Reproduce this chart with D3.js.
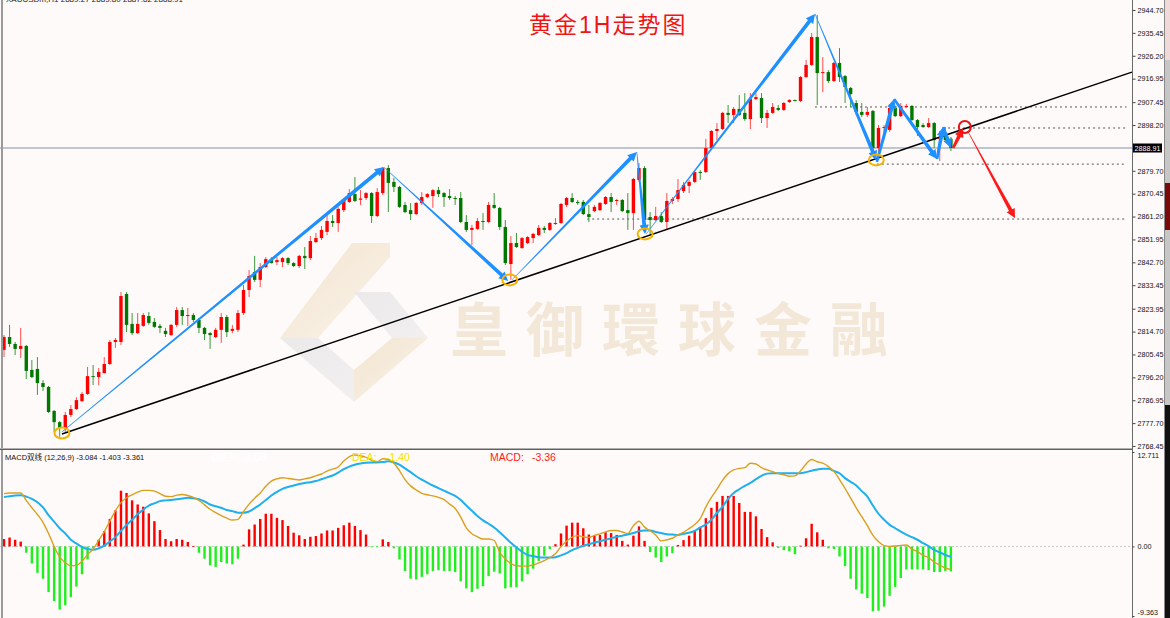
<!DOCTYPE html>
<html lang="zh-CN">
<head>
<meta charset="UTF-8">
<title>黄金1H走势图</title>
<script src="https://d3js.org/d3.v7.min.js"></script>
<style>
  html, body { margin: 0; padding: 0; background: #fffafa; overflow: hidden; }
  svg { display: block; }
  text { font-family: "Liberation Sans", "Noto Sans CJK SC", sans-serif; }
</style>
</head>
<body>
<svg id="chart" width="1170" height="618"></svg>
<script>
// XAUUSD H1 bars, oldest first
var opens = [
  2807.3, 2812.5, 2809.7, 2807.7, 2808.9, 2799.2, 2799.6, 2793.9, 2792.3, 2782.6,
  2778.1, 2775.7, 2781.0, 2783.4, 2786.6, 2789.5, 2796.7, 2796.3, 2797.9, 2801.6,
  2810.5, 2810.5, 2829.9, 2817.8, 2814.1, 2817.0, 2821.0, 2818.6, 2817.0, 2815.0,
  2813.3, 2817.4, 2823.4, 2821.0, 2821.4, 2819.4, 2816.2, 2814.1, 2812.5, 2815.4,
  2820.6, 2815.0, 2815.4, 2822.2, 2831.5, 2838.8, 2835.6, 2840.8, 2843.6, 2842.8,
  2842.8, 2844.4, 2842.4, 2841.2, 2845.3, 2844.4, 2850.9, 2852.5, 2855.0, 2859.4,
  2858.6, 2863.8, 2867.1, 2870.3, 2868.0, 2868.7, 2870.7, 2861.4, 2870.7, 2880.8,
  2875.2, 2873.2, 2865.9, 2863.8, 2862.2, 2866.7, 2869.1, 2869.5, 2871.9, 2870.7,
  2869.5, 2868.7, 2868.7, 2859.0, 2855.8, 2856.2, 2859.4, 2859.0, 2865.9, 2864.7,
  2857.0, 2842.0, 2850.5, 2848.5, 2850.5, 2852.5, 2853.7, 2856.6, 2855.8, 2858.2,
  2858.6, 2865.9, 2868.7, 2867.1, 2867.1, 2862.2, 2863.4, 2863.8, 2866.3, 2869.1,
  2867.5, 2867.9, 2863.8, 2862.6, 2876.0, 2880.8, 2861.0, 2859.8, 2861.4, 2859.0,
  2867.5, 2868.3, 2871.5, 2873.6, 2875.2, 2879.2, 2879.2, 2888.9, 2895.8, 2896.6,
  2903.1, 2902.3, 2904.7, 2903.1, 2900.6, 2908.7, 2909.1, 2901.0, 2903.1, 2905.1,
  2904.3, 2907.5, 2908.3, 2907.9, 2917.6, 2922.5, 2933.8, 2919.2, 2919.6, 2916.0,
  2923.3, 2918.0, 2913.2, 2907.1, 2903.5, 2902.3, 2903.9, 2888.9, 2897.0, 2896.2,
  2905.1, 2901.8, 2905.5, 2905.9, 2900.2, 2898.2, 2897.4, 2899.0, 2892.6, 2894.2,
  2892.6
];
var highs = [
  2813.3, 2817.4, 2810.5, 2816.2, 2809.3, 2803.2, 2804.4, 2795.1, 2792.7, 2783.0,
  2778.5, 2782.2, 2785.0, 2788.2, 2790.3, 2800.4, 2801.2, 2800.0, 2804.4, 2811.3,
  2812.1, 2830.7, 2830.7, 2822.2, 2822.2, 2822.2, 2822.6, 2820.2, 2817.8, 2816.2,
  2817.8, 2824.6, 2824.6, 2824.2, 2822.2, 2820.2, 2816.6, 2814.5, 2816.2, 2822.2,
  2821.4, 2817.4, 2823.4, 2833.5, 2839.6, 2845.3, 2842.4, 2844.8, 2844.8, 2844.8,
  2844.8, 2844.8, 2842.8, 2845.7, 2848.9, 2853.3, 2854.6, 2857.4, 2861.8, 2861.8,
  2865.1, 2868.7, 2872.3, 2877.2, 2871.9, 2871.1, 2871.1, 2872.7, 2881.2, 2882.0,
  2876.8, 2873.6, 2867.1, 2866.7, 2867.1, 2871.1, 2870.7, 2872.3, 2873.2, 2871.1,
  2872.3, 2869.5, 2871.1, 2861.8, 2857.8, 2860.6, 2862.6, 2867.1, 2870.7, 2865.1,
  2859.8, 2853.3, 2854.6, 2852.9, 2853.3, 2854.6, 2857.8, 2857.4, 2859.0, 2860.6,
  2866.7, 2869.1, 2870.7, 2867.9, 2867.9, 2865.9, 2865.9, 2867.1, 2869.5, 2870.7,
  2868.3, 2868.3, 2870.7, 2876.8, 2882.8, 2881.6, 2863.0, 2865.1, 2863.0, 2870.7,
  2869.1, 2876.4, 2875.2, 2876.0, 2879.6, 2880.0, 2892.6, 2896.2, 2899.0, 2903.5,
  2906.3, 2905.5, 2910.3, 2911.1, 2911.1, 2911.1, 2911.1, 2904.3, 2907.1, 2906.3,
  2907.5, 2908.7, 2908.5, 2918.0, 2924.5, 2935.4, 2942.7, 2925.7, 2920.4, 2923.7,
  2929.3, 2918.4, 2913.6, 2908.3, 2907.1, 2905.5, 2904.3, 2898.2, 2898.2, 2906.7,
  2905.9, 2907.1, 2906.7, 2906.3, 2900.6, 2899.0, 2901.0, 2899.4, 2895.8, 2897.4,
  2893.4
];
var lows = [
  2804.4, 2808.5, 2805.2, 2804.0, 2795.5, 2795.9, 2789.1, 2790.7, 2781.8, 2774.1,
  2772.2, 2774.1, 2780.2, 2783.0, 2786.2, 2789.1, 2793.1, 2793.1, 2797.9, 2801.2,
  2808.1, 2809.3, 2814.5, 2813.3, 2813.7, 2816.6, 2817.4, 2816.2, 2814.1, 2812.5,
  2812.9, 2816.6, 2817.4, 2817.0, 2818.6, 2814.1, 2811.3, 2807.7, 2812.1, 2810.1,
  2812.5, 2814.1, 2814.5, 2821.4, 2828.7, 2834.7, 2832.7, 2840.4, 2842.2, 2841.6,
  2840.8, 2841.6, 2840.8, 2840.4, 2840.0, 2843.6, 2850.5, 2851.7, 2853.7, 2857.0,
  2855.0, 2863.0, 2866.7, 2867.1, 2865.9, 2867.9, 2858.6, 2861.0, 2869.9, 2863.0,
  2871.1, 2864.7, 2862.6, 2859.8, 2861.8, 2865.9, 2868.7, 2864.7, 2869.1, 2865.1,
  2867.9, 2865.9, 2858.6, 2855.0, 2849.7, 2855.8, 2855.8, 2858.6, 2864.3, 2855.8,
  2841.6, 2835.6, 2848.5, 2848.1, 2850.1, 2850.5, 2853.3, 2854.6, 2855.4, 2857.8,
  2858.2, 2865.1, 2866.7, 2865.9, 2861.8, 2859.0, 2863.0, 2863.4, 2865.9, 2863.0,
  2865.9, 2863.0, 2855.8, 2855.8, 2875.2, 2855.8, 2853.7, 2859.4, 2858.6, 2855.8,
  2866.3, 2867.1, 2870.7, 2870.7, 2874.8, 2876.0, 2878.8, 2888.5, 2892.1, 2896.2,
  2899.0, 2899.0, 2901.9, 2899.9, 2896.6, 2908.3, 2899.0, 2897.0, 2902.7, 2903.9,
  2903.9, 2907.1, 2907.7, 2907.5, 2917.2, 2922.1, 2906.3, 2911.5, 2915.2, 2915.6,
  2915.6, 2907.1, 2905.5, 2902.3, 2901.4, 2901.4, 2888.1, 2884.1, 2895.0, 2895.4,
  2901.4, 2901.4, 2905.1, 2899.8, 2893.8, 2897.0, 2897.0, 2888.9, 2883.7, 2891.3,
  2887.7
];
var closes = [
  2812.5, 2809.7, 2807.7, 2808.9, 2798.8, 2796.3, 2793.9, 2792.3, 2782.2, 2778.1,
  2775.7, 2781.0, 2783.4, 2787.0, 2789.5, 2796.7, 2796.3, 2798.4, 2801.6, 2810.5,
  2811.3, 2829.1, 2817.4, 2814.1, 2817.8, 2821.4, 2818.2, 2816.6, 2816.2, 2813.7,
  2817.4, 2823.4, 2821.0, 2821.4, 2819.4, 2816.2, 2813.7, 2813.3, 2815.4, 2820.6,
  2814.5, 2815.8, 2822.2, 2831.5, 2837.2, 2835.6, 2840.8, 2844.0, 2842.4, 2843.6,
  2844.4, 2842.4, 2841.2, 2845.3, 2844.4, 2851.3, 2852.5, 2855.8, 2859.4, 2858.6,
  2864.3, 2867.9, 2870.7, 2867.5, 2868.5, 2870.7, 2861.4, 2871.1, 2880.8, 2874.8,
  2873.2, 2865.1, 2863.0, 2862.2, 2866.7, 2869.1, 2870.3, 2871.9, 2870.3, 2869.1,
  2868.7, 2868.3, 2859.0, 2855.8, 2856.6, 2859.4, 2859.0, 2865.9, 2864.7, 2857.0,
  2842.4, 2850.5, 2848.9, 2852.5, 2852.9, 2854.2, 2856.6, 2855.8, 2858.6, 2858.6,
  2866.3, 2868.7, 2867.1, 2866.7, 2862.2, 2861.0, 2865.1, 2866.7, 2869.1, 2867.1,
  2867.9, 2863.4, 2862.6, 2876.4, 2880.8, 2859.8, 2859.8, 2861.4, 2859.0, 2867.5,
  2868.3, 2871.9, 2874.0, 2875.2, 2879.2, 2878.8, 2888.9, 2895.8, 2896.6, 2903.1,
  2902.3, 2904.7, 2902.3, 2900.6, 2908.7, 2909.5, 2901.0, 2903.1, 2905.5, 2904.3,
  2907.1, 2908.3, 2907.9, 2917.6, 2922.5, 2933.8, 2919.2, 2919.6, 2916.0, 2923.3,
  2917.6, 2913.6, 2910.7, 2903.5, 2902.3, 2903.5, 2888.9, 2897.0, 2897.4, 2905.1,
  2901.8, 2905.9, 2905.9, 2900.2, 2897.4, 2897.4, 2899.0, 2892.1, 2893.4, 2892.1,
  2888.91
];

// MACD双线 (12,26,9), one value per bar
var diff = [
  7.1, 7.2, 7.2, 7.2, 6.2, 5.2, 4.3, 3.25, 1.75, 0.0,
  -1.4, -2.2, -2.6, -2.55, -2.0, -1.1, -0.35, 0.8, 2.0, 3.4,
  4.8, 5.9, 6.55, 6.95, 7.3, 7.55, 7.55, 7.45, 7.1, 6.75,
  6.7, 6.9, 7.0, 6.85, 6.6, 6.2, 5.6, 5.0, 4.55, 4.15,
  3.8, 3.55, 3.65, 4.7, 5.7, 6.5, 7.2, 8.1, 8.8, 9.1,
  9.25, 9.15, 9.05, 8.95, 9.1, 9.25, 9.5, 9.75, 10.15, 10.4,
  10.7, 11.5, 12.1, 12.3, 12.2, 12.0, 11.6, 11.4, 11.8, 11.7,
  11.2, 10.2, 9.0, 8.15, 7.6, 7.15, 6.95, 6.8, 6.6, 6.3,
  5.7, 5.1, 3.95, 2.5, 1.7, 1.3, 1.0, 1.0, 0.8, -0.8,
  -1.7, -2.3, -2.6, -2.65, -2.65, -2.5, -2.2, -1.9, -1.5, -1.0,
  0.0, 0.7, 1.25, 1.45, 1.3, 1.2, 1.5, 1.7, 1.95, 2.15,
  2.15, 1.95, 1.75, 2.8, 3.4, 2.6, 2.1, 1.55, 0.75, 0.9,
  1.1, 1.55, 1.9, 2.4, 2.95, 3.75, 5.3, 6.6, 7.7, 8.9,
  9.8, 10.3, 10.5, 10.6, 11.2, 11.1, 10.6, 10.3, 10.05, 9.8,
  9.65, 9.45, 9.5, 10.15, 11.1, 11.7, 11.4, 11.2, 10.75, 10.1,
  9.0, 7.8, 6.5, 5.2, 4.0, 2.8, 1.5, 0.65, 0.1, 0.0,
  0.05, 0.15, 0.2, -0.35, -0.7, -1.2, -1.5, -2.1, -2.5, -2.9,
  -3.084
];
var dea = [
  6.65, 6.75, 6.85, 6.9, 6.7, 6.4, 5.95, 5.25, 4.2, 3.35,
  2.45, 1.75, 0.9, 0.4, -0.05, -0.35, -0.45, -0.25, 0.1, 0.65,
  1.25, 2.1, 2.9, 3.6, 4.35, 4.95, 5.5, 5.8, 6.1, 6.2,
  6.25, 6.35, 6.45, 6.55, 6.5, 6.35, 6.05, 5.65, 5.4, 5.2,
  4.9, 4.75, 4.55, 4.55, 4.7, 5.15, 5.65, 6.25, 6.85, 7.35,
  7.75, 8.0, 8.2, 8.4, 8.55, 8.65, 8.8, 9.05, 9.3, 9.55,
  9.95, 10.4, 10.75, 11.0, 11.15, 11.25, 11.3, 11.3, 11.35, 11.45,
  11.3, 11.0, 10.5, 10.0, 9.45, 9.0, 8.6, 8.2, 7.85, 7.5,
  7.15, 6.8, 6.25, 5.5, 4.8, 4.1, 3.5, 3.05, 2.55, 1.9,
  1.2, 0.5, -0.15, -0.7, -1.15, -1.3, -1.45, -1.5, -1.5, -1.45,
  -1.2, -0.9, -0.5, -0.2, 0.1, 0.3, 0.5, 0.7, 0.9, 1.1,
  1.3, 1.45, 1.6, 1.8, 2.05, 2.15, 2.15, 1.95, 1.8, 1.65,
  1.6, 1.55, 1.7, 1.85, 2.1, 2.55, 2.95, 3.6, 4.5, 5.35,
  6.4, 7.2, 7.7, 8.15, 8.55, 9.05, 9.5, 9.8, 9.85, 9.85,
  9.85, 9.85, 9.85, 9.85, 10.0, 10.2, 10.35, 10.45, 10.45, 10.15,
  9.85, 9.2, 8.7, 8.2, 7.45, 6.7, 5.5, 4.4, 3.6, 2.9,
  2.45, 2.0, 1.6, 1.25, 0.9, 0.45, 0.05, -0.45, -0.8, -1.15,
  -1.403
];
var hist = [
  1.0, 1.2, 0.9, 0.65, -0.85, -2.3, -3.55, -4.35, -6.15, -7.35,
  -8.5, -7.9, -6.8, -5.4, -3.75, -1.75, -0.2, 0.9, 2.05, 3.7,
  4.85, 7.5, 7.2, 6.2, 5.65, 5.35, 4.45, 3.4, 2.2, 1.0,
  0.7, 1.0, 0.9, 0.6, 0.05, -0.85, -1.65, -2.55, -2.75, -2.1,
  -2.3, -2.4, -1.65, 0.25, 2.3, 2.95, 3.7, 4.4, 4.4, 3.85,
  3.55, 2.75, 1.85, 1.5, 1.0, 1.3, 1.4, 1.75, 2.15, 2.15,
  2.5, 2.85, 3.2, 2.75, 2.2, 1.6, -0.05, -0.05, 0.95, 0.6,
  -0.25, -1.75, -3.3, -4.35, -4.45, -4.1, -3.75, -3.3, -3.2, -3.3,
  -3.3, -3.45, -4.7, -5.65, -6.15, -5.7, -5.35, -4.0, -3.4, -3.65,
  -5.65, -5.5, -5.5, -4.7, -3.75, -3.0, -1.95, -1.25, -0.35, 0.3,
  1.75, 2.8, 3.2, 3.2, 2.45, 1.6, 1.45, 1.55, 1.9, 1.8,
  1.55, 0.75, 0.25, 1.45, 2.7, 0.75, -0.75, -1.5, -2.1, -1.35,
  -0.9, 0.2, 0.85, 1.45, 2.15, 2.6, 3.8, 5.2, 6.0, 6.8,
  6.8, 6.8, 5.85, 4.65, 4.65, 4.05, 2.35, 1.25, 0.55, -0.2,
  -0.5, -0.65, -1.05, 0.1, 1.1, 3.05, 1.9, 0.9, -0.25, -0.35,
  -1.35, -2.65, -4.35, -5.8, -6.35, -6.95, -8.75, -8.65, -8.1, -6.65,
  -5.45, -4.25, -3.1, -3.1, -3.1, -3.1, -3.2, -3.45, -3.45, -3.3,
  -3.361
];

var priceTicks = [2944.70, 2935.45, 2926.20, 2916.95, 2907.45, 2898.20, 2879.70, 2870.45,
  2861.20, 2851.95, 2842.70, 2833.45, 2823.95, 2814.70, 2805.45, 2796.20, 2786.95, 2777.70, 2768.45];
var macdTicks = [12.711, 0, -9.363];
var macdTickLabels = ["12.711", "0.00", "-9.363"];
var lastPrice = 2888.91;

// hand-drawn objects, as [bar index, price]
var trendLine = [[10.4, 2773.3], [202.5, 2919.6]];
var waveLegs = [
  [[10.4, 2774.1], [68.2, 2881.2]],
  [[68.2, 2881.2], [90.5, 2835.2]],
  [[91.2, 2835.6], [113.6, 2887.3]],
  [[113.6, 2887.3], [115.1, 2854.2]],
  [[115.3, 2854.2], [145.6, 2943.1]],
  [[145.6, 2943.1], [156.6, 2884.1]],
  [[156.7, 2883.3], [159.8, 2908.7]],
  [[159.8, 2908.7], [167.5, 2884.5]],
  [[167.5, 2884.5], [168.6, 2897.4]],
  [[168.6, 2897.4], [170.0, 2888.9]]
];
var redLegs = [
  [[170.4, 2888.9], [172.2, 2897.0]],
  [[173.1, 2895.4], [181.5, 2860.6]]
];
var lowMarks = [[10.4, 2773.7], [90.8, 2835.6], [115.1, 2854.2], [156.6, 2884.1]];
var targetMark = [172.5, 2897.4];
var levels = [[145.6, 2905.5], [168.6, 2897.0], [156.7, 2882.4], [104.7, 2860.2]];

var svg = d3.select("#chart"),
    axisX = 1132.5,
    mainBottom = 448,
    x = d3.scaleLinear().domain([0, 170]).range([4, 950.9]),
    y = d3.scaleLinear().domain([2768.45, 2944.70]).range([446, 10]),
    ym = d3.scaleLinear().domain([-9.363, 12.711]).range([616, 452]);

var defs = svg.append("defs");
defs.append("clipPath").attr("id", "clipMain")
  .append("rect").attr("x", 0).attr("y", 0).attr("width", axisX).attr("height", mainBottom);
defs.append("clipPath").attr("id", "clipMacd")
  .append("rect").attr("x", 0).attr("y", mainBottom + 2).attr("width", axisX).attr("height", 618 - mainBottom);

var gBeige = defs.append("linearGradient").attr("id", "beige").attr("x1", 0).attr("y1", 0).attr("x2", 1).attr("y2", 1);
gBeige.append("stop").attr("offset", "0%").attr("stop-color", "#f2e4cf");
gBeige.append("stop").attr("offset", "100%").attr("stop-color", "#faf3ea");
var gGrey = defs.append("linearGradient").attr("id", "grey").attr("x1", 0).attr("y1", 0).attr("x2", 1).attr("y2", 1);
gGrey.append("stop").attr("offset", "0%").attr("stop-color", "#ebe9e9");
gGrey.append("stop").attr("offset", "100%").attr("stop-color", "#f1efef");

svg.append("rect").attr("width", 1170).attr("height", 618).attr("fill", "#fffafa");

// watermark
var wm = svg.append("g");
[
  [[352, 243], [390, 243], [390, 257], [318, 338], [280, 338]],
  [[280, 338], [318, 338], [354, 370], [354, 402]]
].forEach(function(p, k) {
  wm.append("polygon").attr("points", p.join(" ")).attr("fill", k === 0 ? "url(#beige)" : "url(#grey)");
});
wm.append("polygon").attr("points", [[354, 292], [390, 292], [428, 338], [392, 338]].join(" ")).attr("fill", "url(#grey)");
wm.append("polygon").attr("points", [[392, 338], [428, 338], [354, 402], [354, 370]].join(" ")).attr("fill", "url(#beige)");
wm.append("text").attr("x", 450).attr("y", 351)
  .attr("font-family", "'Noto Sans CJK TC', 'Noto Sans CJK SC', sans-serif")
  .attr("font-weight", "bold").attr("font-size", 58).attr("letter-spacing", 18)
  .attr("fill", "#f3e7d7").text("皇御環球金融");

// main panel
var plot = svg.append("g").attr("clip-path", "url(#clipMain)");

plot.append("line").attr("x1", 0).attr("x2", axisX).attr("y1", y(lastPrice)).attr("y2", y(lastPrice))
  .attr("stroke", "#8391a0").attr("stroke-width", 1);

plot.selectAll("line.level").data(levels).enter().append("line")
  .attr("x1", d => x(d[0])).attr("x2", axisX - 6)
  .attr("y1", d => y(d[1])).attr("y2", d => y(d[1]))
  .attr("stroke", "#555").attr("stroke-width", 1).attr("stroke-dasharray", "2,3");

var bars = d3.range(closes.length).map(function(i) {
  return { i: i, o: opens[i], h: highs[i], l: lows[i], c: closes[i] };
});
var candle = plot.selectAll("g.bar").data(bars).enter().append("g");
candle.append("line")
  .attr("x1", d => x(d.i)).attr("x2", d => x(d.i))
  .attr("y1", d => y(d.h)).attr("y2", d => y(d.l))
  .attr("stroke", d => d.c >= d.o ? "#ff4d4d" : "#3a9a3a").attr("stroke-width", 1);
candle.append("rect")
  .attr("x", d => x(d.i) - 1.7).attr("width", 3.4)
  .attr("y", d => y(Math.max(d.o, d.c)))
  .attr("height", d => Math.max(1, Math.abs(y(d.o) - y(d.c))))
  .attr("fill", d => d.c >= d.o ? "#ff0000" : "#007800");

plot.append("line")
  .attr("x1", x(trendLine[0][0])).attr("y1", y(trendLine[0][1]))
  .attr("x2", x(trendLine[1][0])).attr("y2", y(trendLine[1][1]))
  .attr("stroke", "#000").attr("stroke-width", 1.5);

// tapered arrow: thin at the start, thick near the head
function arrowPath(a, b) {
  var x0 = x(a[0]), y0 = y(a[1]), x1 = x(b[0]), y1 = y(b[1]);
  var dx = x1 - x0, dy = y1 - y0, len = Math.sqrt(dx * dx + dy * dy);
  var ux = dx / len, uy = dy / len, nx = -uy, ny = ux;
  var w0 = len < 80 ? 2.6 : 0.6, w1 = 3.8, hw = 4.6;
  var hl = Math.min(9, len * 0.45);
  var bx = x1 - ux * hl, by = y1 - uy * hl;
  var pts = [
    [x0 + nx * w0 / 2, y0 + ny * w0 / 2],
    [bx + nx * w1 / 2, by + ny * w1 / 2],
    [bx + nx * hw, by + ny * hw],
    [x1, y1],
    [bx - nx * hw, by - ny * hw],
    [bx - nx * w1 / 2, by - ny * w1 / 2],
    [x0 - nx * w0 / 2, y0 - ny * w0 / 2]
  ];
  return "M" + pts.map(p => p[0].toFixed(1) + "," + p[1].toFixed(1)).join("L") + "Z";
}

plot.selectAll("path.wave").data(waveLegs).enter().append("path")
  .attr("d", d => arrowPath(d[0], d[1])).attr("fill", "#1e90ff");
plot.selectAll("path.red").data(redLegs).enter().append("path")
  .attr("d", d => arrowPath(d[0], d[1])).attr("fill", "#ff1a1a");

plot.selectAll("ellipse.low").data(lowMarks).enter().append("ellipse")
  .attr("cx", d => x(d[0])).attr("cy", d => y(d[1])).attr("rx", 7.5).attr("ry", 5.5)
  .attr("fill", "none").attr("stroke", "#f5b300").attr("stroke-width", 2);
plot.append("circle").attr("cx", x(targetMark[0])).attr("cy", y(targetMark[1])).attr("r", 6)
  .attr("fill", "none").attr("stroke", "#ee1111").attr("stroke-width", 2);

// MACD panel
var macd = svg.append("g").attr("clip-path", "url(#clipMacd)");
macd.append("line").attr("x1", 0).attr("x2", axisX).attr("y1", ym(0)).attr("y2", ym(0))
  .attr("stroke", "#c8c8c8").attr("stroke-dasharray", "2,2");
macd.selectAll("rect.h").data(hist).enter().append("rect")
  .attr("x", (d, i) => x(i) - 1.2).attr("width", 2.4)
  .attr("y", d => Math.min(ym(d), ym(0)))
  .attr("height", d => Math.max(0.8, Math.abs(ym(d) - ym(0))))
  .attr("fill", d => d >= 0 ? "#ff0000" : "#1ef01e");
var line = d3.line().x((d, i) => x(i)).y(d => ym(d)).curve(d3.curveMonotoneX);
macd.append("path").attr("d", line(dea)).attr("fill", "none").attr("stroke", "#1cb0ee").attr("stroke-width", 2);
macd.append("path").attr("d", line(diff)).attr("fill", "none").attr("stroke", "#d9a01e").attr("stroke-width", 1.4);

// frame
svg.append("rect").attr("x", 1).attr("y", 0).attr("width", 2).attr("height", 618).attr("fill", "#9a9a9a");
svg.append("line").attr("x1", 0).attr("x2", axisX).attr("y1", mainBottom + 0.5).attr("y2", mainBottom + 0.5)
  .attr("stroke", "#b0b0b0");
svg.append("line").attr("x1", 0).attr("x2", axisX).attr("y1", mainBottom + 1.5).attr("y2", mainBottom + 1.5)
  .attr("stroke", "#606060");
svg.append("line").attr("x1", axisX).attr("x2", axisX).attr("y1", 0).attr("y2", 618)
  .attr("stroke", "#6a6a6a").attr("stroke-width", 1);

// axes
var yAxis = svg.append("g").attr("transform", "translate(" + axisX + ",0)")
  .call(d3.axisRight(y).tickValues(priceTicks).tickSize(3).tickPadding(2).tickFormat(d3.format(".2f")));
var mAxis = svg.append("g").attr("transform", "translate(" + axisX + ",0)")
  .call(d3.axisRight(ym).tickValues(macdTicks).tickSize(2).tickPadding(3)
    .tickFormat((d, i) => macdTickLabels[i]));
[yAxis, mAxis].forEach(function(a) {
  a.select(".domain").remove();
  a.selectAll("line").attr("stroke", "#444");
  a.selectAll("text").attr("font-size", 7.2).attr("fill", "#111")
    .attr("font-family", "'Liberation Sans', sans-serif");
});
mAxis.selectAll(".tick").filter(d => d === macdTicks[0]).select("text").attr("dy", "0.75em");
mAxis.selectAll(".tick").filter(d => d === macdTicks[2]).select("text").attr("dy", "-0.15em");

svg.append("rect").attr("x", axisX + 0.5).attr("y", y(lastPrice) - 4.5).attr("width", 29).attr("height", 9).attr("fill", "#000");
svg.append("text").attr("x", axisX + 2).attr("y", y(lastPrice) + 2.6).attr("font-size", 7.2).attr("fill", "#fff")
  .text(d3.format(".2f")(lastPrice));

// right tool strip (cut off)
[[0, 60, "#f1d9d9"], [60, 183, "#c6c6c6"], [183, 230, "#7a0a0a"], [230, 405, "#c6c6c6"], [405, 618, "#111"]]
  .forEach(function(s) {
    svg.append("rect").attr("x", 1164).attr("y", s[0]).attr("width", 6).attr("height", s[1] - s[0]).attr("fill", s[2]);
  });
svg.append("line").attr("x1", 1164.5).attr("x2", 1164.5).attr("y1", 0).attr("y2", 618).attr("stroke", "#8a8a8a");

// texts
svg.append("text").attr("x", 6).attr("y", 1.5).attr("font-size", 8).attr("fill", "#222")
  .text("XAUUSDm,H1  2889.27 2889.80 2887.82 2888.91");
svg.append("text").attr("x", 529).attr("y", 33).attr("font-size", 23).attr("letter-spacing", 2)
  .attr("font-family", "'Noto Sans CJK SC', sans-serif").attr("fill", "#ee1515").text("黄金1H走势图");

svg.append("text").attr("x", 5).attr("y", 459.5).attr("font-size", 7.5).attr("fill", "#111")
  .text("MACD双线 (12,26,9) " + diff[diff.length - 1].toFixed(3) + " " + dea[dea.length - 1].toFixed(3) + " " + hist[hist.length - 1].toFixed(3));
var hdr = [
  ["DIFF:", 212, "#ffffff"], [diff[diff.length - 1].toFixed(2), 242, "#ffffff"],
  ["DEA:", 352, "#f2e200"], [dea[dea.length - 1].toFixed(2), 386, "#f2e200"],
  ["MACD:", 490, "#ff1a1a"], [hist[hist.length - 1].toFixed(2), 532, "#ff1a1a"]
];
hdr.forEach(function(t) {
  svg.append("text").attr("x", t[1]).attr("y", 461).attr("font-size", 10.5).attr("fill", t[2]).text(t[0]);
});
</script>
</body>
</html>
